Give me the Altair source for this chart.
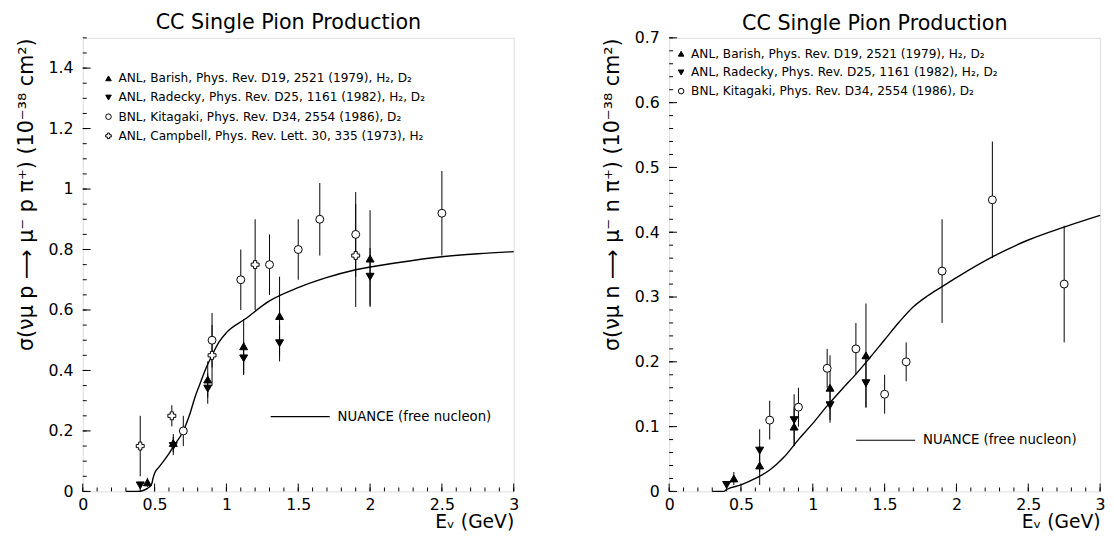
import altair as alt
import pandas as pd

FONT = "DejaVu Sans"

EXPS_L = [
    "ANL, Barish, Phys. Rev. D19, 2521 (1979), H\u2082, D\u2082",
    "ANL, Radecky, Phys. Rev. D25, 1161 (1982), H\u2082, D\u2082",
    "BNL, Kitagaki, Phys. Rev. D34, 2554 (1986), D\u2082",
    "ANL, Campbell, Phys. Rev. Lett. 30, 335 (1973), H\u2082",
]
EXPS_R = EXPS_L[:3]
MODEL = "NUANCE (free nucleon)"

# ---------------- left panel: nu_mu p -> mu- p pi+ ----------------
L_barish_x = [0.45, 0.63, 0.87, 1.12, 1.37, 2.0]
L_barish_y = [0.03, 0.16, 0.37, 0.48, 0.58, 0.77]
L_barish_e = [0.015, 0.03, 0.06, 0.09, 0.13, 0.16]

L_radecky_x = [0.40, 0.63, 0.87, 1.12, 1.37, 2.0]
L_radecky_y = [0.02, 0.15, 0.34, 0.44, 0.49, 0.71]
L_radecky_e = [0.01, 0.03, 0.05, 0.055, 0.06, 0.095]

L_kita_x = [0.7, 0.9, 1.1, 1.3, 1.5, 1.65, 1.9, 2.5]
L_kita_y = [0.20, 0.50, 0.70, 0.75, 0.80, 0.90, 0.85, 0.92]
L_kita_e = [0.05, 0.09, 0.10, 0.10, 0.10, 0.12, 0.14, 0.14]

L_camp_x = [0.40, 0.62, 0.90, 1.20, 1.90]
L_camp_y = [0.15, 0.25, 0.45, 0.75, 0.78]
L_camp_e = [0.10, 0.035, 0.10, 0.15, 0.17]

L_nuance_x = [0.30, 0.38, 0.42, 0.45, 0.48, 0.49, 0.50, 0.53, 0.60, 0.63, 0.70,
              0.745, 0.78, 0.813, 0.86, 0.90, 0.95, 1.0, 1.13, 1.3, 1.49, 1.69,
              1.9, 2.2, 2.5, 2.75, 3.0]
L_nuance_y = [0.0, 0.0, 0.003, 0.01, 0.025, 0.045, 0.06, 0.08, 0.125, 0.148, 0.20,
              0.255, 0.31, 0.352, 0.41, 0.45, 0.495, 0.525, 0.57, 0.63, 0.672, 0.706,
              0.733, 0.757, 0.776, 0.786, 0.793]

# ---------------- right panel: nu_mu n -> mu- n pi+ ----------------
R_barish_x = [0.45, 0.63, 0.87, 1.12, 1.37]
R_barish_y = [0.02, 0.04, 0.10, 0.16, 0.21]
R_barish_e = [0.01, 0.03, 0.03, 0.05, 0.08]

R_radecky_x = [0.40, 0.63, 0.87, 1.12, 1.37]
R_radecky_y = [0.01, 0.063, 0.11, 0.133, 0.167]
R_radecky_e = [0.005, 0.033, 0.04, 0.027, 0.038]

R_kita_x = [0.7, 0.9, 1.1, 1.3, 1.5, 1.65, 1.9, 2.25, 2.75]
R_kita_y = [0.11, 0.13, 0.19, 0.22, 0.15, 0.20, 0.34, 0.45, 0.32]
R_kita_e = [0.03, 0.03, 0.03, 0.04, 0.03, 0.03, 0.08, 0.09, 0.09]

R_nuance_x = [0.30, 0.38, 0.40, 0.50, 0.60, 0.70, 0.80, 0.90, 1.0, 1.1, 1.2, 1.3,
              1.4, 1.5, 1.6, 1.7, 1.8, 1.9, 2.0, 2.25, 2.5, 2.75, 3.0]
R_nuance_y = [0.0, 0.0, 0.003, 0.01, 0.02, 0.033, 0.053, 0.08, 0.105, 0.132, 0.157, 0.181,
              0.207, 0.234, 0.261, 0.285, 0.302, 0.316, 0.33, 0.362, 0.388, 0.408, 0.426]

# ---------------- axes ----------------
X_LABELS = [0, 0.5, 1, 1.5, 2, 2.5, 3]
X_MINOR = [round(0.1 * i, 1) for i in range(31)]
L_Y_LABELS = [0, 0.2, 0.4, 0.6, 0.8, 1.0, 1.2, 1.4]
L_Y_MINOR = [round(0.05 * i, 2) for i in range(31)]
R_Y_LABELS = [0, 0.1, 0.2, 0.3, 0.4, 0.5, 0.6, 0.7]
R_Y_MINOR = [round(0.02 * i, 2) for i in range(36)]

W, H = 438, 461


def points_df(groups):
    rows = []
    for name, xs, ys, es in groups:
        for x, y, e in zip(xs, ys, es):
            rows.append({"E": x, "sigma": y, "lo": y - e, "hi": y + e, "exp": name})
    return pd.DataFrame(rows)


def panel(groups, exps, nx, ny, ylabels, yminor, ymax, ytitle, leg_pts, leg_line, toff):
    xscale = alt.Scale(domain=[0, 3], nice=False, zero=False)
    yscale = alt.Scale(domain=[0, ymax], nice=False, zero=False)
    xaxis = alt.Axis(values=X_LABELS, format="~g", ticks=False, domain=False, grid=False,
                     labelFont=FONT, labelFontSize=16, labelColor="black", labelPadding=5,
                     labelFlush=False,
                     title="E\u1d65 (GeV)", titleFont=FONT, titleFontSize=19,
                     titleFontWeight="normal", titleColor="black", titleAnchor="end",
                     titlePadding=1)
    yaxis = alt.Axis(values=ylabels, format="~g", ticks=False, domain=False, grid=False,
                     labelFont=FONT, labelFontSize=16, labelColor="black", labelPadding=10,
                     labelFlush=False,
                     title=ytitle, titleFont=FONT, titleFontSize=21,
                     titleFontWeight="normal", titleColor="black", titleAnchor="end",
                     titlePadding=12)

    def X(f):
        return alt.X(f, type="quantitative", scale=xscale, axis=xaxis)

    def Y(f):
        return alt.Y(f, type="quantitative", scale=yscale, axis=yaxis)

    df = points_df(groups)
    xmaj = pd.DataFrame({"E": X_LABELS})
    xmin = pd.DataFrame({"E": X_MINOR})
    ymaj = pd.DataFrame({"sigma": ylabels})
    ymin = pd.DataFrame({"sigma": yminor})
    line = pd.DataFrame({"E": nx, "sigma": ny, "model": MODEL})

    t1 = alt.Chart(xmaj).mark_rule(color="black", strokeWidth=1).encode(
        x=X("E"), y=alt.value(H), y2=alt.value(H - 8))
    t2 = alt.Chart(xmin).mark_rule(color="black", strokeWidth=1).encode(
        x=X("E"), y=alt.value(H), y2=alt.value(H - 4))
    t3 = alt.Chart(ymaj).mark_rule(color="black", strokeWidth=1).encode(
        y=Y("sigma"), x=alt.value(0), x2=alt.value(8))
    t4 = alt.Chart(ymin).mark_rule(color="black", strokeWidth=1).encode(
        y=Y("sigma"), x=alt.value(0), x2=alt.value(4))

    err = alt.Chart(df).mark_rule(color="black", strokeWidth=1).encode(
        x=X("E"), y=Y("lo"), y2="hi")

    curve = alt.Chart(line).mark_line(strokeWidth=1.4, interpolate="monotone").encode(
        x=X("E"), y=Y("sigma"),
        color=alt.Color("model:N",
                        scale=alt.Scale(domain=[MODEL], range=["black"]),
                        legend=alt.Legend(title=None, orient="none",
                                          legendX=leg_line[0], legendY=leg_line[1],
                                          symbolType="stroke", symbolSize=3600,
                                          symbolStrokeWidth=1.2, labelOffset=7,
                                          labelFont=FONT, labelFontSize=13.5,
                                          labelColor="black", padding=0,
                                          labelLimit=600)))

    n = len(exps)
    shapes = ["triangle-up", "triangle-down", "circle", "cross"][:n]
    fills = ["black", "black", "white", "white"][:n]
    leg = alt.Legend(title=None, orient="none", legendX=leg_pts[0], legendY=leg_pts[1],
                     symbolSize=32, symbolStrokeWidth=1,
                     labelFont=FONT, labelFontSize=12.3, labelColor="black",
                     rowPadding=leg_pts[2], labelOffset=4, padding=0, labelLimit=600)
    pts = alt.Chart(df).mark_point(filled=True, strokeWidth=1, size=65, opacity=1).encode(
        x=X("E"), y=Y("sigma"),
        shape=alt.Shape("exp:N", scale=alt.Scale(domain=exps, range=shapes), legend=leg),
        fill=alt.Fill("exp:N", scale=alt.Scale(domain=exps, range=fills), legend=leg),
        stroke=alt.Stroke("exp:N", scale=alt.Scale(domain=exps, range=["black"] * n),
                          legend=leg),
    )

    return alt.layer(t1, t2, t3, t4, curve, err, pts).properties(
        width=W, height=H,
        title=alt.TitleParams("CC Single Pion Production", font=FONT, fontSize=21,
                              fontWeight="normal", color="black", anchor="middle",
                              frame="group", dx=-10, offset=toff),
    )


left = panel(
    [(EXPS_L[0], L_barish_x, L_barish_y, L_barish_e),
     (EXPS_L[1], L_radecky_x, L_radecky_y, L_radecky_e),
     (EXPS_L[2], L_kita_x, L_kita_y, L_kita_e),
     (EXPS_L[3], L_camp_x, L_camp_y, L_camp_e)],
    EXPS_L, L_nuance_x, L_nuance_y, L_Y_LABELS, L_Y_MINOR, 1.5,
    "\u03c3(\u03bd\u03bc p \u27f6 \u03bc\u207b p \u03c0\u207a) (10\u207b\u00b3\u2078 cm\u00b2)",
    (20, 35, 6.5), (190, 354), 4,
)
right = panel(
    [(EXPS_R[0], R_barish_x, R_barish_y, R_barish_e),
     (EXPS_R[1], R_radecky_x, R_radecky_y, R_radecky_e),
     (EXPS_R[2], R_kita_x, R_kita_y, R_kita_e)],
    EXPS_R, R_nuance_x, R_nuance_y, R_Y_LABELS, R_Y_MINOR, 0.7,
    "\u03c3(\u03bd\u03bc n \u27f6 \u03bc\u207b n \u03c0\u207a) (10\u207b\u00b3\u2078 cm\u00b2)",
    (6, 10, 6), (189, 378), -4,
)

chart = alt.hconcat(left, right, spacing=83).resolve_scale(
    shape="independent", fill="independent", stroke="independent", color="independent"
).resolve_legend(
    shape="independent", fill="independent", stroke="independent", color="independent"
).properties(
    padding={"left": 7, "top": 0, "right": 0, "bottom": 0}
).configure_view(stroke="black", strokeWidth=1.2).configure(background="white")

chart.save("out.html", embed_options={"renderer": "svg", "actions": False})
